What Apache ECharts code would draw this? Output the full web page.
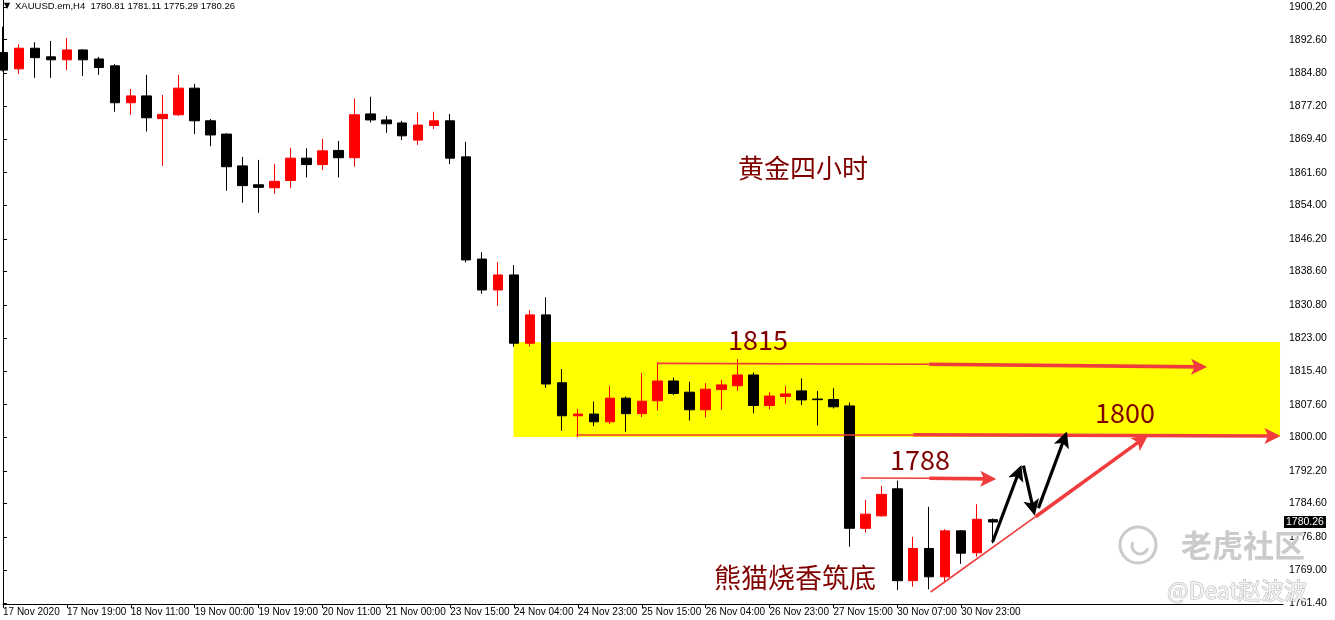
<!DOCTYPE html>
<html><head><meta charset="utf-8">
<script src="https://cdn.jsdelivr.net/npm/echarts@6/dist/echarts.min.js"></script>
<style>html,body{margin:0;padding:0;background:#fff}#c{width:1335px;height:620px}</style>
</head><body><div id="c"></div>
<script>
// ---- x axis (bar index) tick labels ----
const xTickIdx = [0,4,8,12,16,20,24,28,32,36,40,44,48,52,56,60];
const xTickLabels = ['17 Nov 2020','17 Nov 19:00','18 Nov 11:00','19 Nov 00:00','19 Nov 19:00','20 Nov 11:00','21 Nov 00:00','23 Nov 15:00','24 Nov 04:00','24 Nov 23:00','25 Nov 15:00','26 Nov 04:00','26 Nov 23:00','27 Nov 15:00','30 Nov 07:00','30 Nov 23:00'];
// ---- y axis tick labels ----
const yTickValues = [1761.4,1769.0,1776.8,1784.6,1792.2,1800.0,1807.6,1815.4,1823.0,1830.8,1838.6,1846.2,1854.0,1861.6,1869.4,1877.2,1884.8,1892.6,1900.2];
// ---- OHLC (H4 XAUUSD) ----
const opens  = [1889.6,1885.8,1890.6,1888.6,1887.9,1890.2,1888.1,1886.5,1877.9,1879.5,1874.2,1875.1,1881.3,1873.7,1870.6,1863.2,1858.8,1858.1,1859.8,1865.0,1863.5,1866.8,1865.1,1875.3,1873.9,1873.2,1869.2,1872.6,1873.7,1865.3,1841.5,1834.3,1837.8,1821.9,1828.5,1812.7,1805.0,1805.4,1803.6,1809.1,1805.5,1808.5,1813.1,1810.5,1806.4,1811.1,1812.0,1814.5,1807.4,1809.5,1810.8,1808.9,1808.8,1807.3,1778.8,1781.7,1788.0,1766.6,1774.1,1767.5,1778.2,1773.1,1780.81];
const closes = [1885.5,1890.6,1888.4,1887.9,1890.2,1887.9,1886.1,1877.9,1879.5,1874.4,1875.2,1881.3,1873.7,1870.4,1863.0,1858.6,1858.2,1859.6,1865.0,1863.5,1866.7,1865.1,1875.1,1873.9,1873.0,1870.2,1872.7,1873.7,1865.0,1841.3,1834.3,1837.8,1821.9,1828.5,1812.4,1805.0,1805.4,1803.6,1809.1,1805.5,1808.4,1813.1,1810.2,1806.4,1811.2,1812.2,1814.5,1807.4,1809.6,1810.1,1808.7,1808.75,1807.1,1778.8,1782.1,1786.7,1766.6,1774.1,1767.5,1778.2,1773.0,1780.9,1780.26];
const lows   = [1885.2,1884.6,1883.7,1883.7,1885.5,1884.1,1884.4,1875.8,1875.1,1871.2,1863.2,1874.8,1870.6,1867.8,1857.4,1854.6,1852.3,1856.7,1858.1,1860.5,1862.2,1860.5,1863.0,1873.3,1870.9,1869.2,1868.1,1871.8,1863.6,1840.7,1833.4,1830.6,1821.1,1821.1,1811.5,1801.5,1800.0,1802.6,1803.1,1801.3,1804.7,1806.2,1809.8,1803.9,1804.6,1806.4,1810.8,1805.6,1806.5,1807.8,1807.5,1802.7,1806.7,1774.5,1777.8,1781.5,1764.4,1765.2,1764.6,1766.0,1770.5,1772.2,1775.29];
const highs  = [1895.6,1891.5,1892.0,1892.3,1893.0,1890.4,1888.6,1886.9,1881.1,1884.4,1879.7,1884.4,1882.3,1874.1,1870.8,1865.3,1864.6,1863.6,1867.4,1867.3,1869.5,1869.0,1878.9,1879.3,1874.8,1873.7,1875.6,1875.8,1875.3,1868.8,1843.1,1840.8,1840.1,1829.6,1832.6,1815.9,1806.6,1808.3,1811.9,1809.5,1815.0,1817.5,1813.9,1812.9,1812.6,1813.3,1818.2,1815.1,1810.5,1811.9,1813.7,1810.8,1811.4,1808.1,1785.4,1788.7,1789.9,1776.8,1783.8,1778.6,1778.4,1784.4,1781.11];
const lastPrice = 1780.26;
// ---- annotations (bar index, price) ----
const zone = [[31.97, 1822.2, 79.97, 1800.06]];
const redThin = [
  [[40.97,1817.2],[58.0,1817.0]],
  [[35.9,1800.7],[57.0,1800.6]],
  [[53.72,1790.5],[58.0,1790.45]],
  [[58.09,1763.96],[64.66,1781.5]]
];
const redArrows = [
  [[58.0,1817.0],[74.9,1816.4]],
  [[57.0,1800.6],[79.5,1800.3]],
  [[58.0,1790.45],[61.7,1790.3]],
  [[64.66,1781.5],[71.3,1799.4]]
];
const blackArrows = [
  [[61.97,1775.6],[63.6,1791.8]],
  [[63.9,1793.4],[64.5,1783.6]],
  [[64.84,1783.5],[66.45,1799.6]]
];

const chart = echarts.init(document.getElementById('c'), null, {renderer:'canvas'});
const candleData = opens.map((o,i)=>[i,o,closes[i],lows[i],highs[i]]);
const darkRed = '#800000';
const redLine = '#f03c3c';
const headPath = 'path://M5,0 L10,11 L5,8.5 L0,11 Z';

const option = {
  animation:false,
  backgroundColor:'#ffffff',
  grid:{left:0.5,right:52,top:0,bottom:16},
  xAxis:{
    type:'value', min:0, max:80.156,
    axisLine:{show:true,lineStyle:{color:'#000',width:1}},
    axisTick:{show:true,customValues:xTickIdx,length:4,lineStyle:{color:'#000'}},
    axisLabel:{customValues:xTickIdx,formatter:v=>{const k=xTickIdx.indexOf(Math.round(v));return k>=0?xTickLabels[k]:'';},
      align:'left',margin:3,color:'#000',fontSize:10,fontFamily:'Liberation Sans'},
    splitLine:{show:false}
  },
  yAxis:{
    type:'value', position:'right', min:1761.17, max:1901.83,
    axisLine:{show:true,lineStyle:{color:'#000',width:1}},
    axisTick:{show:true,customValues:yTickValues,length:4,lineStyle:{color:'#000'}},
    axisLabel:{customValues:yTickValues,formatter:v=>v.toFixed(2),margin:6,color:'#000',fontSize:10.5,fontFamily:'Liberation Sans'},
    splitLine:{show:false}
  },
  series:[
    {type:'custom', z:1, clip:false, data:zone, encode:{x:[0,2],y:[1,3]},
     renderItem:(params,api)=>{
       const p1=api.coord([api.value(0),api.value(1)]);
       const p2=api.coord([api.value(2),api.value(3)]);
       return {type:'rect',shape:{x:p1[0],y:p1[1],width:p2[0]-p1[0],height:p2[1]-p1[1]},style:{fill:'#ffff00'}};
     }},
    {type:'candlestick', z:2, data:candleData, encode:{x:0,y:[1,2,3,4]}, barWidth:10,
     itemStyle:{color:'#ff0000',color0:'#000000',borderColor:'#ff0000',borderColor0:'#000000',borderWidth:1},
     markLine:{silent:true,symbol:['none','none'],animation:false,
       lineStyle:{color:'rgba(0,0,0,0)',width:0,type:'solid'},
       label:{show:true,position:'end',distance:1,formatter:()=>lastPrice.toFixed(2),backgroundColor:'#000',color:'#fff',fontSize:10.5,fontFamily:'Liberation Sans',padding:[1,2,0,2]},
       data:[{yAxis:lastPrice}]}
    },
    {type:'lines', coordinateSystem:'cartesian2d', z:3, symbol:['none','none'],
     lineStyle:{color:redLine,width:1.6,opacity:1,curveness:0},
     data:redThin.map(c=>({coords:c}))},
    {type:'lines', coordinateSystem:'cartesian2d', z:3, symbol:['none',headPath], symbolSize:[0,16],
     itemStyle:{color:redLine},
     lineStyle:{color:redLine,width:3.6,opacity:1,curveness:0},
     data:redArrows.map(c=>({coords:c}))},
    {type:'lines', coordinateSystem:'cartesian2d', z:4, symbol:['none',headPath], symbolSize:[0,16],
     itemStyle:{color:'#000'},
     lineStyle:{color:'#000',width:3.2,opacity:1,curveness:0},
     data:blackArrows.map(c=>({coords:c}))}
  ],
  graphic:[
    {type:'text', x:4, y:2, z:10, style:{text:'▼', fontSize:8, fontFamily:'DejaVu Sans', fill:'#000'}},
    {type:'text', x:15, y:1, z:10, style:{text:'XAUUSD.em,H4  1780.81 1781.11 1775.29 1780.26', fontSize:9.5, fontFamily:'Liberation Sans', fill:'#000'}},
    {type:'text', x:803, y:168, z:10, style:{text:'黄金四小时', fontSize:26, fontFamily:'Noto Sans CJK SC', fill:darkRed, align:'center', verticalAlign:'middle'}},
    {type:'text', x:795, y:578, z:10, style:{text:'熊猫烧香筑底', fontSize:27, fontFamily:'Noto Sans CJK SC', fill:darkRed, align:'center', verticalAlign:'middle'}},
    {type:'text', x:758, y:340, z:10, style:{text:'1815', fontSize:27, fontFamily:'Noto Sans CJK SC', fill:darkRed, align:'center', verticalAlign:'middle'}},
    {type:'text', x:1125, y:413, z:10, style:{text:'1800', fontSize:27, fontFamily:'Noto Sans CJK SC', fill:darkRed, align:'center', verticalAlign:'middle'}},
    {type:'text', x:920, y:460, z:10, style:{text:'1788', fontSize:27, fontFamily:'Noto Sans CJK SC', fill:darkRed, align:'center', verticalAlign:'middle'}},
    {type:'circle', z:10, shape:{cx:1138,cy:545,r:18}, style:{fill:'none',stroke:'#c4c4c4',lineWidth:3,opacity:0.9}},
    {type:'arc', z:10, shape:{cx:1140,cy:546,r:8,startAngle:0.3,endAngle:3.6}, style:{fill:'none',stroke:'#c4c4c4',lineWidth:3,opacity:0.9}},
    {type:'text', x:1243, y:545, z:10, style:{text:'老虎社区', fontSize:31, fontWeight:'bold', fontFamily:'Noto Sans CJK SC', fill:'#c8c8c8', stroke:'#ffffff', lineWidth:1, align:'center', verticalAlign:'middle', opacity:0.95}},
    {type:'text', x:1237, y:590, z:10, style:{text:'@Deat赵波波', fontSize:23, fontFamily:'Noto Sans CJK SC', fill:'#f2f2f2', stroke:'#b4b4b4', lineWidth:1, align:'center', verticalAlign:'middle'}}
  ]
};
chart.setOption(option);
</script>
</body></html>
